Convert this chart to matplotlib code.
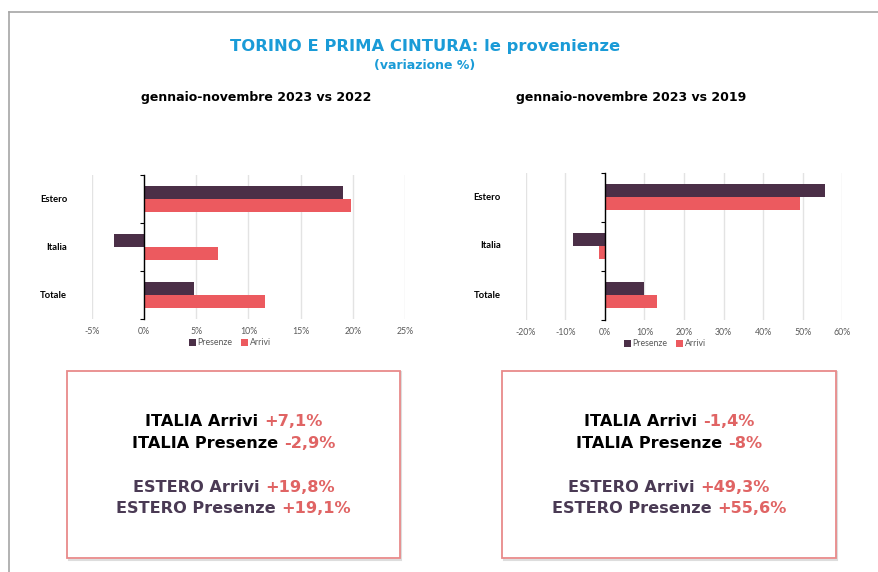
import matplotlib
matplotlib.use('Agg')
import matplotlib.pyplot as plt
from matplotlib.patches import Rectangle
from matplotlib.lines import Line2D
import numpy as np

plt.rcParams['font.family'] = ['Lato', 'DejaVu Sans']

categories = ['Estero', 'Italia', 'Totale']
presenze_22 = [19.1, -2.9, 4.8]
arrivi_22 = [19.8, 7.1, 11.6]
presenze_19 = [55.6, -8.0, 10.0]
arrivi_19 = [49.3, -1.4, 13.1]

ticks_22 = [-5, 0, 5, 10, 15, 20, 25]
ticks_19 = [-20, -10, 0, 10, 20, 30, 40, 50, 60]

box_22 = [('ITALIA Arrivi', '+7,1%'), ('ITALIA Presenze', '-2,9%'),
          ('ESTERO Arrivi', '+19,8%'), ('ESTERO Presenze', '+19,1%')]
box_19 = [('ITALIA Arrivi', '-1,4%'), ('ITALIA Presenze', '-8%'),
          ('ESTERO Arrivi', '+49,3%'), ('ESTERO Presenze', '+55,6%')]

c_pres = '#4b2f47'
c_arr = '#ec5a5f'
c_val = '#e06464'
c_est = '#4a3a54'
blue = '#1a9bd7'

W, H = 879, 572
fig = plt.figure(figsize=(W / 100, H / 100), dpi=100)

# cornice grigia
fig.add_artist(Line2D([9 / W, 1], [1 - 12 / H] * 2, color='#a6a6a6', lw=1.2))
fig.add_artist(Line2D([9 / W] * 2, [0, 1 - 12 / H], color='#a6a6a6', lw=1.2))

fig.text(425 / W, 1 - 46 / H, 'TORINO E PRIMA CINTURA: le provenienze', ha='center', va='center',
         color=blue, fontsize=11.8, fontweight='bold', family='DejaVu Sans')
fig.text(425 / W, 1 - 65 / H, '(variazione %)', ha='center', va='center',
         color=blue, fontsize=9, fontweight='bold', family='DejaVu Sans')


def bar_chart(rect, pres, arr, ticks, title, title_x):
    ax = fig.add_axes(rect)
    y = np.arange(len(categories))
    h = 0.27
    ax.barh(y - h / 2, pres, height=h, color=c_pres, label='Presenze', zorder=3)
    ax.barh(y + h / 2, arr, height=h, color=c_arr, label='Arrivi', zorder=3)
    ax.set_ylim(len(categories) - 0.5, -0.5)
    ax.set_xlim(ticks[0], ticks[-1])
    ax.set_xticks(ticks)
    ax.set_xticklabels([f'{t}%' for t in ticks])
    ax.grid(axis='x', color='#e3e3e3', lw=1, zorder=0)
    for s in ['top', 'right', 'bottom']:
        ax.spines[s].set_visible(False)
    ax.spines['left'].set_position(('data', 0))
    ax.spines['left'].set_color('black')
    ax.spines['left'].set_linewidth(1)
    ax.spines['left'].set_zorder(4)
    ax.set_yticks(np.arange(len(categories) + 1) - 0.5)
    ax.set_yticklabels([])
    ax.tick_params(axis='y', length=3, width=0.8, color='black')
    ax.tick_params(axis='x', length=0, labelsize=6.3, labelcolor='#595959', pad=6)
    for i, c in enumerate(categories):
        ax.text(-0.079, i, c, transform=ax.get_yaxis_transform(), ha='right', va='center',
                fontsize=6.8, fontweight='bold', color='black')
    ax.legend(loc='center', bbox_to_anchor=(0.44, -0.165), ncol=2, frameon=False, fontsize=6.3,
              handlelength=0.8, handleheight=0.8, handletextpad=0.2, columnspacing=1.0,
              labelcolor='#595959')
    fig.text(title_x / W, 1 - 97 / H, title, ha='center', va='center', fontsize=9,
             fontweight='bold', color='black', family='DejaVu Sans')
    return ax


bar_chart([92 / W, 1 - 319 / H, 313 / W, 144 / H], presenze_22, arrivi_22, ticks_22,
          'gennaio-novembre 2023 vs 2022', 256)
bar_chart([525.7 / W, 1 - 319.5 / H, 316.6 / W, 147 / H], presenze_19, arrivi_19, ticks_19,
          'gennaio-novembre 2023 vs 2019', 631)

renderer = fig.canvas.get_renderer()


def colored_line(xc, yc, label, value, col):
    kw = dict(fontsize=11.6, fontweight='bold', va='center', ha='left', family='DejaVu Sans')
    t1 = fig.text(0, 1 - yc / H, label + ' ', color=col, **kw)
    t2 = fig.text(0, 1 - yc / H, value, color=c_val, **kw)
    w1 = t1.get_window_extent(renderer).width
    w2 = t2.get_window_extent(renderer).width
    x0 = xc - (w1 + w2) / 2
    t1.set_x(x0 / W)
    t2.set_x((x0 + w1) / W)


def text_box(x0, x1, lines):
    y0, y1 = 370.7, 558.3
    fig.add_artist(Rectangle((x0 / W + 1.5 / W, 1 - (y1 + 1.5) / H), (x1 - x0) / W, (y1 - y0) / H,
                             transform=fig.transFigure, fill=False, ec='#dddddd', lw=1.5))
    fig.add_artist(Rectangle((x0 / W, 1 - y1 / H), (x1 - x0) / W, (y1 - y0) / H,
                             transform=fig.transFigure, fill=True, fc='white', ec='#e88a8a', lw=1.3))
    xc = (x0 + x1) / 2
    ys = [422, 444, 488, 508.5]
    for (lab, val), yy, k in zip(lines, ys, range(4)):
        colored_line(xc, yy, lab, val, 'black' if k < 2 else c_est)


text_box(67.3, 400, box_22)
text_box(502.3, 835.7, box_19)

fig.savefig('out.png', dpi=100)
